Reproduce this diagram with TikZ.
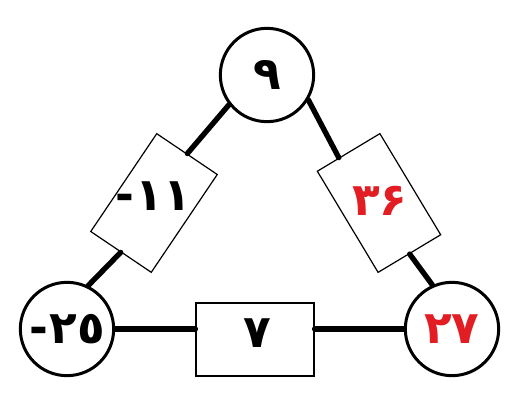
\documentclass[tikz,border=0pt]{standalone}
\usepackage{fontspec}
\newfontfamily\arabicfont[Script=Arabic]{DejaVu Sans}
\usetikzlibrary{calc}
\definecolor{numred}{RGB}{226,30,36}

\tikzset{
  numcirc/.style={circle,draw,line width=2.25pt,minimum size=70pt,inner sep=0pt},
  numbox/.style={rectangle,draw,line width=0.9pt,minimum width=88.5pt,minimum height=54.75pt,inner sep=0pt},
  wire/.style={line width=4pt,line cap=round},
  numtext/.style={font=\arabicfont\bfseries\fontsize{34}{34}\selectfont}
}

\begin{document}
\begin{tikzpicture}[x=0.75pt,y=0.75pt]
  \useasboundingbox (0,0) rectangle (514,400);
  % circles
  \node[numcirc,numtext] (ctop) at (267,325) {۹};
  \node[numcirc,numtext] (cleft) at (67,71) {-\kern1pt۲٥};
  \node[numcirc,numtext,text=numred] (cright) at (452,71) {۲۷};
  % boxes
  \node[numbox,rotate=56] (bleft) at (154,197) {};
  \node[numtext] (tleft) at (153,204) {-\kern1pt۱۱};
  \node[numbox,rotate=-59] (bright) at (379,197) {};
  \node[numtext,text=numred] (tright) at (380,199) {۳۶};
  \node[numbox] (bbot) at (255,60.5) {};
  \node[numtext] (tbot) at (257,67) {۷};
  % wires
  \draw[wire] (ctop.218) -- (bleft.east);
  \draw[wire] (bleft.west) -- (cleft.64);
  \draw[wire] (ctop.-31) -- ($(bright.south west)!0.35!(bright.north west)$);
  \draw[wire] (bright.east) -- (cright.114);
  \draw[wire] (cleft.east) -- (cleft.east -| bbot.west);
  \draw[wire] (bbot.east |- cright.west) -- (cright.west);
\end{tikzpicture}
\end{document}
